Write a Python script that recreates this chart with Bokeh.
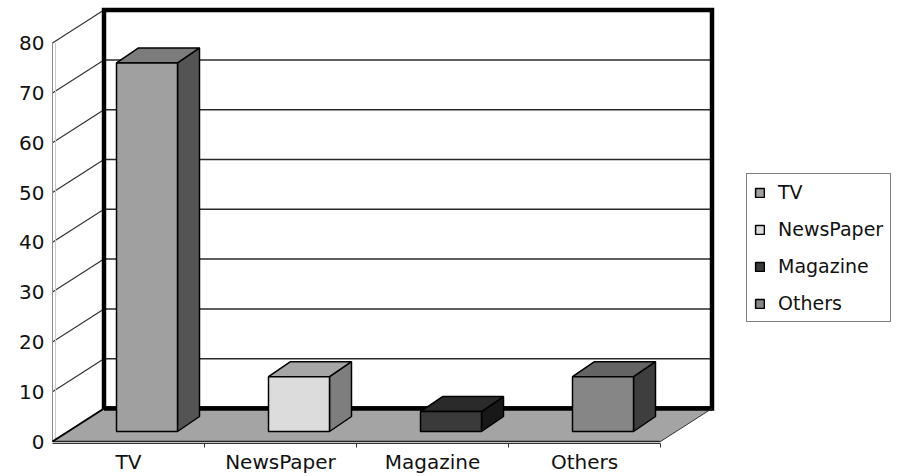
import numpy as np
from bokeh.plotting import figure
from bokeh.models import Range1d, FixedTicker, Legend, LegendItem, LinearAxis, ColumnDataSource
from bokeh.embed import file_html
from bokeh.resources import INLINE

# ---- data ----
categories = ["TV", "NewsPaper", "Magazine", "Others"]
values = [74, 11, 4, 11]
y_ticks = [0, 10, 20, 30, 40, 50, 60, 70, 80]

# ---- styles ----
front_colors = ["#a0a0a0", "#dcdcdc", "#3a3a3a", "#868686"]
top_colors = ["#7c7c7c", "#a6a6a6", "#2a2a2a", "#646464"]
side_colors = ["#545454", "#7e7e7e", "#181818", "#3e3e3e"]
FONT = "DejaVu Sans"

PX_X = 152.0   # px per category
PX_Y = 4.98    # px per value unit
WDX = 51.5 / PX_X   # wall depth (x)
WDY = 33.0 / PX_Y   # wall depth (y)
BX0 = 64.0 / PX_X   # bar front-left offset inside category
BW = 61.0 / PX_X    # bar width
BY0 = 10.0 / PX_Y   # bar base height (projected)
BDX = 22.0 / PX_X   # bar depth (x)
BDY = 15.0 / PX_Y   # bar depth (y)
YMAX = y_ticks[-1]
N = len(categories)

p = figure(width=919, height=476, output_backend="svg", toolbar_location=None,
           x_range=Range1d(-4 / PX_X, (919 - 52) / PX_X),
           y_range=Range1d(-2 / PX_Y, 441 / PX_Y),
           x_axis_location=None, y_axis_location=None,
           min_border_left=48, min_border_right=0, min_border_top=0, min_border_bottom=31)
p.outline_line_color = None
p.xgrid.visible = False
p.ygrid.visible = False
p.background_fill_color = "white"
p.border_fill_color = "white"

# left wall
p.patch([0, WDX, WDX, 0], [0, WDY, YMAX + WDY, YMAX], fill_color="white", line_color=None)
for v in y_ticks[1:]:
    p.line([0, WDX], [v, v + WDY], line_color="#333333", line_width=1.2)
p.line([0, 0], [0, YMAX], line_color="#8a8a8a", line_width=1)
p.line([0.02, 0.02], [0, YMAX], line_color="#c8c8c8", line_width=1)

# back wall
p.patch([WDX, N + WDX, N + WDX, WDX], [WDY, WDY, YMAX + WDY, YMAX + WDY],
        fill_color="white", line_color=None)
for v in y_ticks[1:-1]:
    p.line([WDX, N + WDX], [v + WDY, v + WDY], line_color="#2a2a2a", line_width=1.5)
p.patch([WDX, N + WDX, N + WDX, WDX], [WDY, WDY, YMAX + WDY, YMAX + WDY],
        fill_color=None, line_color="black", line_width=4.5, line_join="miter")

# floor
p.patch([0, N, N + WDX, WDX], [0, 0, WDY, WDY], fill_color="#a4a4a4", line_color=None)
p.line([WDX, N + WDX], [WDY, WDY], line_color="black", line_width=4.5)
p.line([0, N], [0, 0], line_color="#222222", line_width=1.5)
p.line([N, N + WDX], [0, WDY], line_color="#333333", line_width=1)
p.line([0, WDX], [0, WDY], line_color="black", line_width=2)

# bars
idx = np.arange(N)
vals = np.array(values, dtype=float)
left = idx + BX0
right = left + BW
top = BY0 + vals
bottom = np.full(N, BY0)

top_src = ColumnDataSource(dict(
    xs=[[l, l + BDX, r + BDX, r] for l, r in zip(left, right)],
    ys=[[t, t + BDY, t + BDY, t] for t in top],
    c=top_colors))
side_src = ColumnDataSource(dict(
    xs=[[r, r + BDX, r + BDX, r] for r in right],
    ys=[[BY0, BY0 + BDY, t + BDY, t] for t in top],
    c=side_colors))
front_src = ColumnDataSource(dict(left=left, right=right, bottom=bottom, top=top,
                                  c=front_colors, name=categories))

p.patches("xs", "ys", source=side_src, fill_color="c", line_color="black", line_width=1.5)
p.patches("xs", "ys", source=top_src, fill_color="c", line_color="black", line_width=1.5)
front = p.quad(left="left", right="right", bottom="bottom", top="top", source=front_src,
               fill_color="c", line_color="black", line_width=1.5)

# axes
yaxis = LinearAxis(ticker=FixedTicker(ticks=y_ticks))
yaxis.axis_line_color = None
yaxis.major_tick_line_color = None
yaxis.minor_tick_line_color = None
yaxis.major_tick_in = 0
yaxis.major_tick_out = 0
yaxis.major_label_standoff = 4
yaxis.major_label_text_font = FONT
yaxis.major_label_text_font_size = "20px"
yaxis.major_label_text_color = "#111111"
p.add_layout(yaxis, "left")

xaxis = LinearAxis(ticker=FixedTicker(ticks=[i + 0.5 for i in range(N)],
                                      minor_ticks=[i + 1 for i in range(N)]))
xaxis.bounds = (0, N)
xaxis.major_label_overrides = {i + 0.5: c for i, c in enumerate(categories)}
xaxis.axis_line_color = "#333333"
xaxis.axis_line_width = 1
xaxis.major_tick_line_color = None
xaxis.major_tick_in = 0
xaxis.major_tick_out = 0
xaxis.minor_tick_in = 0
xaxis.minor_tick_out = 4
xaxis.minor_tick_line_color = "#333333"
xaxis.major_label_standoff = 2
xaxis.major_label_text_font = FONT
xaxis.major_label_text_font_size = "20px"
xaxis.major_label_text_color = "#111111"
p.add_layout(xaxis, "below")

# legend
items = [LegendItem(label=c, renderers=[front], index=i) for i, c in enumerate(categories)]
legend = Legend(items=items, location=(698, 121))
legend.border_line_color = "black"
legend.border_line_width = 1.5
legend.background_fill_color = "white"
legend.background_fill_alpha = 1
legend.label_text_font = FONT
legend.label_text_font_size = "19px"
legend.label_text_color = "#111111"
legend.glyph_width = 11
legend.glyph_height = 11
legend.label_standoff = 13
legend.label_height = 21
legend.spacing = 15
legend.padding = 7
legend.margin = 0
p.add_layout(legend)

open("out.html", "w").write(file_html(p, INLINE))
